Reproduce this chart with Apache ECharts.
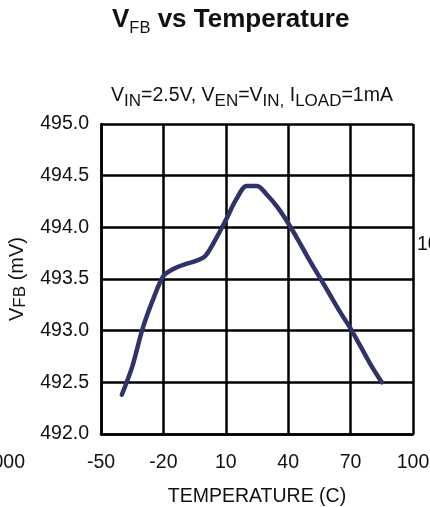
<!DOCTYPE html>
<html>
<head>
<meta charset="utf-8">
<script src="https://cdn.jsdelivr.net/npm/echarts@6.0.0/dist/echarts.min.js"></script>
<style>
html,body{margin:0;padding:0;background:#fff;}
#main{width:430px;height:507px;}
</style>
</head>
<body>
<div id="main"></div>
<script>
// Temperature (C)
const temperature = [-40,-35,-30,-25,-20,-15,-10,-5,0,5,10,15,20,25,30,35,40,45,50,55,60,65,70,75,80,85];
// VFB (mV)
const vfb = [492.38,492.65,493.02,493.30,493.53,493.60,493.64,493.67,493.72,493.88,494.07,494.27,494.40,494.40,494.31,494.19,494.04,493.87,493.69,493.52,493.35,493.18,493.02,492.84,492.66,492.50];
// axis ranges / tick steps
const xRange = [-50, 100], xStep = 30;
const yRange = [492, 495], yStep = 0.5;

const FONT = 'Liberation Sans, Arial, sans-serif';
const chart = echarts.init(document.getElementById('main'), null, {renderer:'canvas'});
const option = {
  animation:false,
  backgroundColor:'#fff',
  title:[
    {
      left:112, top:7, padding:0,
      text:'{m|V}{s|FB}{m| vs Temperature}',
      textStyle:{
        fontWeight:'normal',
        rich:{
          m:{fontFamily:FONT,fontSize:26,fontWeight:'bold',color:'#111',verticalAlign:'bottom',padding:[0,0,4,0]},
          s:{fontFamily:FONT,fontSize:16.5,fontWeight:'normal',color:'#111',verticalAlign:'bottom'}
        }
      }
    },
    {
      left:111, top:86, padding:0,
      text:'{m|V}{s|IN}{m|=2.5V, V}{s|EN}{m|=V}{s|IN,}{m| I}{s|LOAD}{m|=1mA}',
      textStyle:{
        fontWeight:'normal',
        rich:{
          m:{fontFamily:FONT,fontSize:19.5,fontWeight:'normal',color:'#111',verticalAlign:'bottom',padding:[0,0,3.5,0]},
          s:{fontFamily:FONT,fontSize:17,fontWeight:'normal',color:'#111',verticalAlign:'bottom'}
        }
      }
    }
  ],
  grid:{left:101,right:17,top:124,bottom:73,show:false,outerBoundsMode:'none',containLabel:false},
  xAxis:{
    type:'value', min:xRange[0], max:xRange[1], interval:xStep,
    name:'TEMPERATURE (C)', nameLocation:'middle', nameGap:53,
    nameTextStyle:{fontFamily:FONT,fontSize:19.5,color:'#111'},
    axisLine:{show:true,onZero:false,lineStyle:{color:'#000',width:2.5}},
    axisTick:{show:false},
    axisLabel:{fontFamily:FONT,fontSize:19.5,color:'#111',margin:19},
    splitLine:{show:true,lineStyle:{color:'#000',width:2.5}}
  },
  yAxis:{
    type:'value', min:yRange[0], max:yRange[1], interval:yStep,
    name:'{m|V}{s|FB}{m| (mV)}', nameLocation:'middle', nameGap:69, nameRotate:90,
    nameTextStyle:{
      rich:{
        m:{fontFamily:FONT,fontSize:20,color:'#111',verticalAlign:'bottom',padding:[0,0,1.5,0]},
        s:{fontFamily:FONT,fontSize:17,color:'#111',verticalAlign:'bottom'}
      }
    },
    axisLine:{show:true,onZero:false,lineStyle:{color:'#000',width:2.5}},
    axisTick:{show:false},
    axisLabel:{fontFamily:FONT,fontSize:19.5,color:'#111',margin:12,formatter:v=>v.toFixed(1)},
    splitLine:{show:true,lineStyle:{color:'#000',width:2.5}}
  },
  graphic:[
    {type:'text',x:25,y:463,style:{text:'1000',font:'19.5px '+FONT,fill:'#111',align:'right',verticalAlign:'middle'}},
    {type:'text',x:417,y:245,style:{text:'100',font:'19.5px '+FONT,fill:'#111',align:'left',verticalAlign:'middle'}}
  ],
  series:[{
    type:'line',
    data:temperature.map((t,i)=>[t,vfb[i]]),
    smooth:0.3,
    symbol:'none',
    lineStyle:{color:'#30336b',width:4.5,cap:'round',join:'round'}
  }]
};
chart.setOption(option);
</script>
</body>
</html>
